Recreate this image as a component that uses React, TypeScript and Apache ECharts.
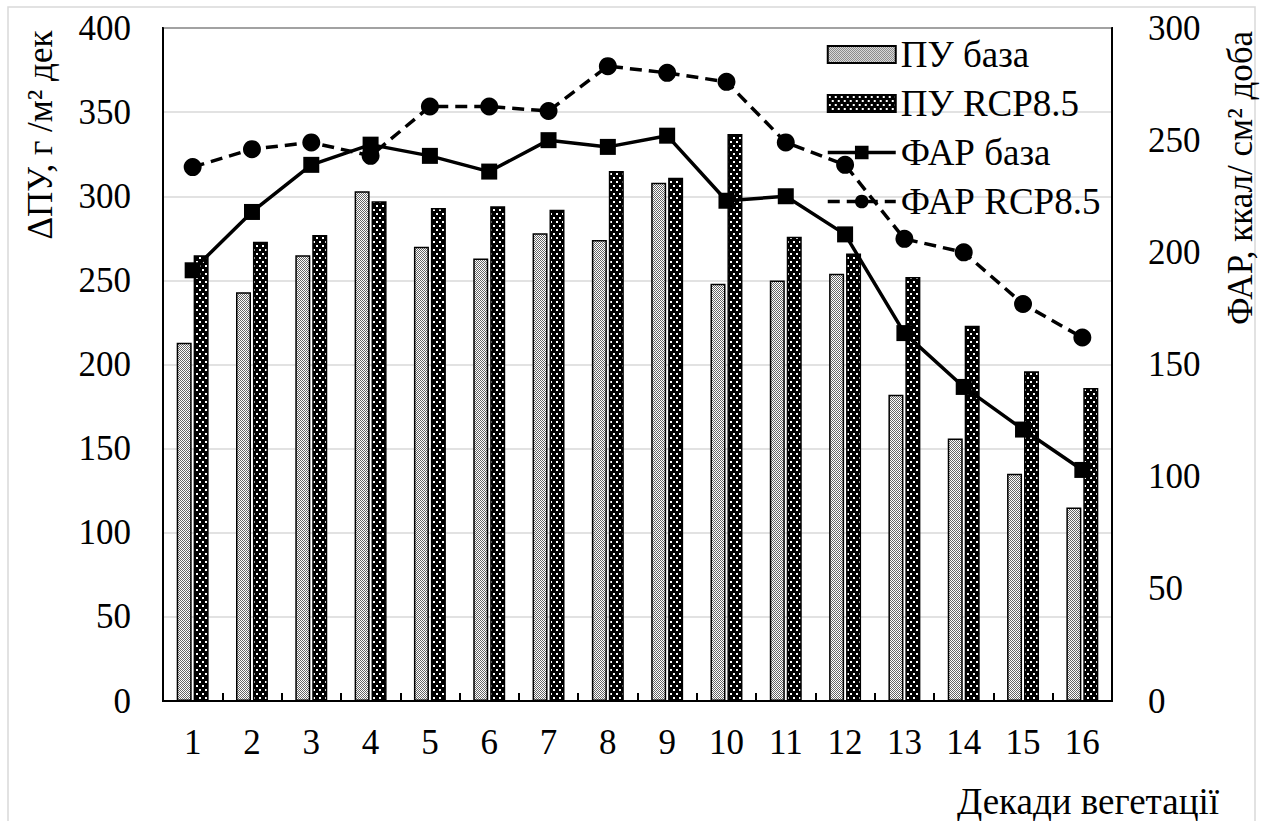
import React, { useEffect, useRef } from "react";
import * as echarts from "echarts";

const categories = ["1", "2", "3", "4", "5", "6", "7", "8", "9", "10", "11", "12", "13", "14", "15", "16"];
const puBase = [213, 243, 265, 303, 270, 263, 278, 274, 308, 248, 250, 254, 182, 156, 135, 115];
const puRcp = [265, 273, 277, 297, 293, 294, 292, 315, 311, 337, 276, 266, 252, 223, 196, 186];
const farBase = [192, 218, 239, 248, 243, 236, 250, 247, 252, 223, 225, 208, 164, 140, 121, 103];
const farRcp = [238, 246, 249, 243, 265, 265, 263, 283, 280, 276, 249, 239, 206, 200, 177, 162];
const seriesNames = ["ПУ база", "ПУ RCP8.5", "ФАР база", "ФАР RCP8.5"];
const leftTitle = "ΔПУ, г /м² дек";
const rightTitle = "ФАР, ккал/ см² доба";
const xTitle = "Декади вегетації";

const FONT = "'Liberation Serif', 'Times New Roman', serif";

function makeTile(w: number, h: number, draw: (ctx: CanvasRenderingContext2D) => void): string {
  const c = document.createElement("canvas");
  c.width = w;
  c.height = h;
  const ctx = c.getContext("2d") as CanvasRenderingContext2D;
  draw(ctx);
  return c.toDataURL();
}

export default function App() {
  const ref = useRef<HTMLDivElement>(null);
  useEffect(() => {
    if (!ref.current) return;
    const checker = makeTile(4, 4, (ctx) => {
      ctx.fillStyle = "#ffffff";
      ctx.fillRect(0, 0, 4, 4);
      ctx.fillStyle = "#666666";
      for (let y = 0; y < 4; y++)
        for (let x = 0; x < 4; x++) if ((x + y) % 2 === 0) ctx.fillRect(x, y, 1, 1);
    });
    const dots = makeTile(6, 8, (ctx) => {
      ctx.fillStyle = "#000000";
      ctx.fillRect(0, 0, 6, 8);
      ctx.fillStyle = "#ffffff";
      ctx.fillRect(1, 1, 2, 2);
      ctx.fillRect(4, 5, 2, 2);
    });
    const basePattern: any = { image: checker, repeat: "repeat", imageWidth: 4, imageHeight: 4 };
    const rcpPattern: any = { image: dots, repeat: "repeat", imageWidth: 6, imageHeight: 8 };

    const chart = echarts.init(ref.current, null, { renderer: "svg" });
    chart.setOption({
      animation: false,
      backgroundColor: "#ffffff",
      textStyle: { fontFamily: FONT, color: "#000" },
      grid: {
        left: 163,
        right: 149,
        top: 28,
        bottom: 120,
        show: true,
        borderColor: "#000",
        borderWidth: 2,
      },
      legend: {
        orient: "vertical",
        left: 826,
        top: 36,
        padding: 0,
        itemWidth: 68,
        itemHeight: 17,
        itemGap: 12,
        data: [
          { name: seriesNames[0], icon: "rect" },
          { name: seriesNames[1], icon: "rect" },
          { name: seriesNames[2] },
          { name: seriesNames[3] },
        ],
        lineStyle: { width: 3.5 },
        textStyle: { fontSize: 37, fontFamily: FONT, color: "#000" },
      },
      xAxis: {
        type: "category",
        data: categories,
        axisLine: { lineStyle: { color: "#000", width: 2 } },
        axisTick: { show: true, inside: true, length: 8, lineStyle: { color: "#000", width: 2 } },
        axisLabel: { fontSize: 35, margin: 24, color: "#000", fontFamily: FONT },
        splitLine: { show: false },
      },
      yAxis: [
        {
          type: "value",
          min: 0,
          max: 400,
          interval: 50,
          axisLine: { show: true, lineStyle: { color: "#000", width: 2 } },
          axisTick: { show: false },
          axisLabel: { fontSize: 35, margin: 32, color: "#000", fontFamily: FONT },
          splitLine: { show: true, lineStyle: { color: "#d9d9d9", width: 1.5 } },
        },
        {
          type: "value",
          position: "right",
          min: 0,
          max: 300,
          interval: 50,
          axisLine: { show: true, lineStyle: { color: "#000", width: 2 } },
          axisTick: { show: false },
          axisLabel: { fontSize: 35, margin: 36, color: "#000", fontFamily: FONT },
          splitLine: { show: false },
        },
      ],
      series: [
        {
          name: seriesNames[0],
          type: "bar",
          yAxisIndex: 0,
          data: puBase,
          barWidth: 15,
          barGap: "13%",
          itemStyle: { color: basePattern, borderColor: "#000", borderWidth: 1.5 },
        },
        {
          name: seriesNames[1],
          type: "bar",
          yAxisIndex: 0,
          data: puRcp,
          barWidth: 15,
          barGap: "13%",
          itemStyle: { color: rcpPattern, borderColor: "#000", borderWidth: 1.5 },
        },
        {
          name: seriesNames[2],
          type: "line",
          yAxisIndex: 1,
          data: farBase,
          symbol: "rect",
          symbolSize: 16,
          lineStyle: { color: "#000", width: 3.5 },
          itemStyle: { color: "#000" },
          z: 3,
        },
        {
          name: seriesNames[3],
          type: "line",
          yAxisIndex: 1,
          data: farRcp,
          symbol: "circle",
          symbolSize: 18,
          lineStyle: { color: "#000", width: 3.5, type: [12, 7] },
          itemStyle: { color: "#000" },
          z: 3,
        },
      ],
      graphic: [
        {
          type: "rect",
          shape: { x: 8, y: 7, width: 1247, height: 830 },
          style: { fill: "none", stroke: "#d9d9d9", lineWidth: 1.5 },
          silent: true,
          z: -10,
        },
        {
          type: "text",
          x: 40,
          y: 135,
          rotation: Math.PI / 2,
          style: {
            text: leftTitle,
            fontSize: 35,
            fontFamily: FONT,
            fill: "#000",
            textAlign: "center",
            textVerticalAlign: "middle",
          },
        },
        {
          type: "text",
          x: 1240,
          y: 178,
          rotation: Math.PI / 2,
          style: {
            text: rightTitle,
            fontSize: 35,
            fontFamily: FONT,
            fill: "#000",
            textAlign: "center",
            textVerticalAlign: "middle",
          },
        },
        {
          type: "text",
          x: 1219,
          y: 801,
          style: {
            text: xTitle,
            fontSize: 37,
            fontFamily: FONT,
            fill: "#000",
            textAlign: "right",
            textVerticalAlign: "middle",
          },
        },
      ],
    });
    return () => chart.dispose();
  }, []);
  return <div ref={ref} style={{ width: 1261, height: 821, position: "absolute", left: 0, top: 0 }} />;
}
